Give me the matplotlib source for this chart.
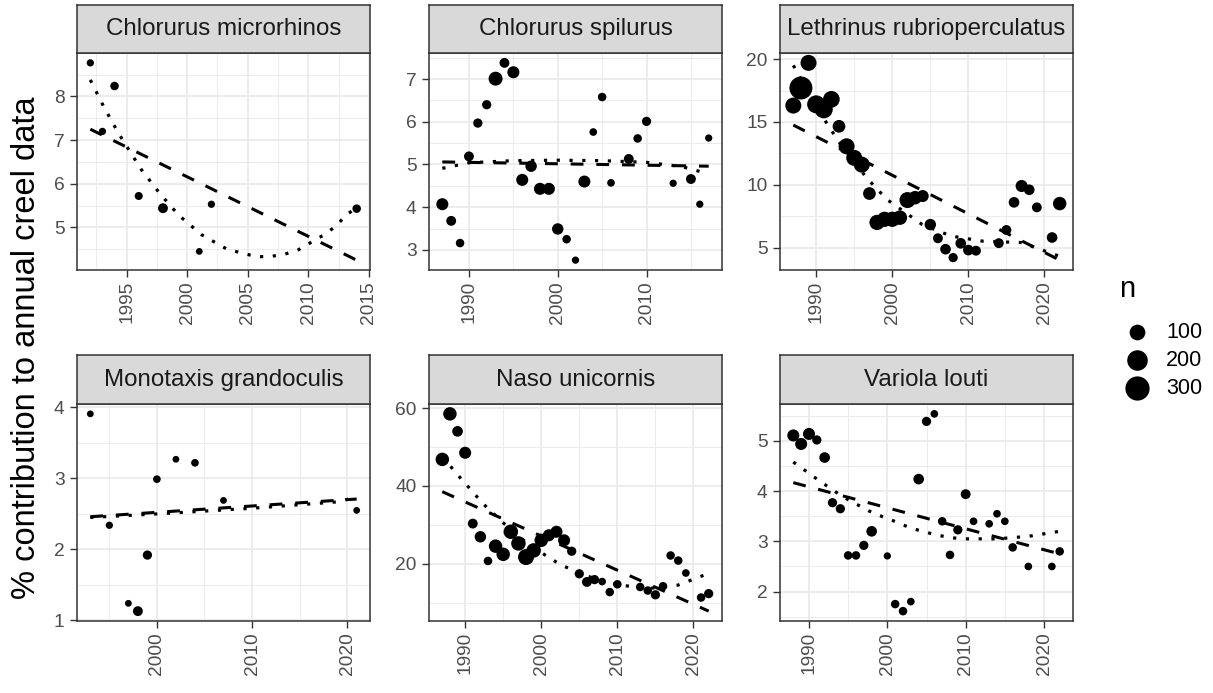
import numpy as np
import matplotlib
matplotlib.use("Agg")
import matplotlib.pyplot as plt
from matplotlib.ticker import MultipleLocator

plt.rcParams['font.family'] = ['Liberation Sans', 'DejaVu Sans']

# ---------------- data ----------------
species = ["Chlorurus microrhinos", "Chlorurus spilurus", "Lethrinus rubrioperculatus",
           "Monotaxis grandoculis", "Naso unicornis", "Variola louti"]

cm_year = [1992, 1993, 1994, 1996, 1998, 2001, 2002, 2014]
cm_pct = [8.77, 7.20, 8.24, 5.72, 5.44, 4.45, 5.53, 5.43]
cm_n = [8, 8, 15, 12, 25, 6, 8, 15]
cm_lin_year = [1992, 2014]
cm_lin_pct = [7.25, 4.25]
cm_sm_year = [1992, 1993.1, 1994.3, 1996.2, 1997.7, 1999.3, 2001.2, 2003.3, 2005.7, 2006.8,
              2008.1, 2009.2, 2011.3, 2012.3, 2013.1, 2014]
cm_sm_pct = [8.38, 7.77, 7.17, 6.33, 5.79, 5.28, 4.83, 4.50, 4.33, 4.33,
             4.39, 4.49, 4.83, 5.03, 5.28, 5.45]

cs_year = [1987, 1988, 1989, 1990, 1991, 1992, 1993, 1994, 1995, 1996, 1997, 1998, 1999,
           2000, 2001, 2002, 2003, 2004, 2005, 2006, 2008, 2009, 2010, 2013, 2015, 2016, 2017]
cs_pct = [4.07, 3.68, 3.16, 5.19, 5.97, 6.40, 7.01, 7.38, 7.16, 4.64, 4.96, 4.43, 4.43,
          3.49, 3.25, 2.76, 4.60, 5.76, 6.58, 4.57, 5.13, 5.61, 6.01, 4.56, 4.66, 4.07, 5.62]
cs_n = [47, 25, 15, 25, 20, 20, 72, 25, 47, 47, 40, 47, 47,
        40, 15, 8, 47, 10, 15, 10, 25, 15, 20, 8, 25, 8, 8]
cs_lin_year = [1987, 2017]
cs_lin_pct = [5.06, 4.96]
cs_sm_year = [1987, 1990, 1995, 2000, 2005, 2010, 2014, 2017]
cs_sm_pct = [4.91, 5.04, 5.09, 5.10, 5.09, 5.05, 4.95, 4.78]

lr_year = [1987, 1988, 1989, 1990, 1991, 1992, 1993, 1994, 1995, 1996, 1997, 1998, 1999,
           2000, 2001, 2002, 2003, 2004, 2005, 2006, 2007, 2008, 2009, 2010, 2011, 2014,
           2015, 2016, 2017, 2018, 2019, 2021, 2022]
lr_pct = [16.3, 17.7, 19.7, 16.4, 16.0, 16.8, 14.65, 13.06, 12.14, 11.6, 9.3, 7.0, 7.25,
          7.25, 7.38, 8.78, 8.97, 9.1, 6.83, 5.74, 4.87, 4.2, 5.34, 4.8, 4.75, 5.35,
          6.4, 8.6, 9.9, 9.6, 8.2, 5.8, 8.5]
lr_n = [105, 264, 105, 143, 143, 117, 55, 105, 105, 105, 55, 92, 92,
        92, 80, 105, 65, 47, 40, 25, 32, 20, 32, 32, 25, 25,
        25, 32, 47, 32, 25, 32, 65]
lr_lin_year = [1987, 2022]
lr_lin_pct = [14.75, 4.0]
lr_sm_year = [1987, 1990, 1993, 1996.7, 1999.3, 2003.9, 2007.7, 2012, 2017, 2022]
lr_sm_pct = [19.5, 16.2, 13.4, 10.5, 8.83, 6.85, 5.92, 5.5, 5.4, 4.3]

mg_year = [1993, 1995, 1997, 1998, 1999, 2000, 2002, 2004, 2007, 2021]
mg_pct = [3.91, 2.34, 1.24, 1.13, 1.92, 2.99, 3.27, 3.22, 2.69, 2.55]
mg_n = [6, 8, 6, 25, 20, 10, 6, 10, 6, 6]
mg_lin_year = [1993, 2021]
mg_lin_pct = [2.46, 2.71]
mg_sm_year = [1993, 2000, 2010, 2019, 2021]
mg_sm_pct = [2.45, 2.50, 2.58, 2.67, 2.74]

nu_year = [1987, 1988, 1989, 1990, 1991, 1992, 1993, 1994, 1995, 1996, 1997, 1998, 1999,
           2000, 2001, 2002, 2003, 2004, 2005, 2006, 2007, 2008, 2009, 2010, 2013, 2014,
           2015, 2016, 2017, 2018, 2019, 2021, 2022]
nu_pct = [46.8, 58.5, 54.0, 48.5, 30.3, 26.9, 20.7, 24.5, 22.4, 28.2, 25.2, 21.7, 23.4,
          26.0, 27.3, 28.2, 26.0, 23.2, 17.4, 15.3, 15.9, 15.4, 12.7, 14.7, 14.0, 13.1,
          12.0, 14.2, 22.1, 20.8, 17.6, 11.3, 12.3]
nu_n = [65, 65, 32, 47, 25, 40, 15, 65, 65, 80, 80, 105, 80,
        65, 47, 47, 47, 20, 20, 25, 20, 10, 15, 15, 15, 15,
        20, 15, 15, 15, 10, 15, 20]
nu_lin_year = [1987, 2022]
nu_lin_pct = [38.5, 7.8]
nu_sm_year = [1987, 1988.3, 1989.6, 1990.9, 1992.2, 1995, 1998, 2001.2, 2002.8, 2006,
              2010, 2014, 2018, 2022]
nu_sm_pct = [47.5, 44.5, 41.5, 38.7, 35.7, 30.5, 25.5, 21.3, 19.5, 16.8,
             14.6, 13.6, 14.5, 17.5]

vl_year = [1988, 1989, 1990, 1991, 1992, 1993, 1994, 1995, 1996, 1997, 1998, 2000, 2001,
           2002, 2003, 2004, 2005, 2006, 2007, 2008, 2009, 2010, 2011, 2013, 2014, 2015,
           2016, 2018, 2021, 2022]
vl_pct = [5.11, 4.94, 5.14, 5.02, 4.67, 3.77, 3.65, 2.72, 2.72, 2.92, 3.20, 2.71, 1.75,
          1.61, 1.80, 4.24, 5.39, 5.54, 3.40, 2.73, 3.23, 3.94, 3.40, 3.35, 3.55, 3.40,
          2.88, 2.50, 2.50, 2.80]
vl_n = [47, 47, 47, 20, 32, 20, 20, 15, 15, 20, 32, 8, 15,
        15, 10, 32, 20, 10, 15, 15, 20, 25, 10, 10, 10, 10,
        15, 10, 10, 15]
vl_lin_year = [1988, 2022]
vl_lin_pct = [4.17, 2.75]
vl_sm_year = [1988, 1989.7, 1991.2, 1992.8, 1994.3, 1997.6, 1999.4, 2001.1, 2002.9,
              2004.7, 2006.5, 2008.3, 2010.1, 2014, 2018, 2022]
vl_sm_pct = [4.58, 4.39, 4.22, 4.05, 3.89, 3.61, 3.49, 3.39, 3.27,
             3.19, 3.12, 3.07, 3.05, 3.05, 3.10, 3.20]

legend_n = [100, 200, 300]

panels = [
    (cm_year, cm_pct, cm_n, cm_lin_year, cm_lin_pct, cm_sm_year, cm_sm_pct),
    (cs_year, cs_pct, cs_n, cs_lin_year, cs_lin_pct, cs_sm_year, cs_sm_pct),
    (lr_year, lr_pct, lr_n, lr_lin_year, lr_lin_pct, lr_sm_year, lr_sm_pct),
    (mg_year, mg_pct, mg_n, mg_lin_year, mg_lin_pct, mg_sm_year, mg_sm_pct),
    (nu_year, nu_pct, nu_n, nu_lin_year, nu_lin_pct, nu_sm_year, nu_sm_pct),
    (vl_year, vl_pct, vl_n, vl_lin_year, vl_lin_pct, vl_sm_year, vl_sm_pct),
]
x_steps = [5, 10, 10, 10, 10, 10]
y_steps = [1, 1, 5, 1, 20, 1]

# ---------------- style / layout ----------------
W, H, DPI = 1213, 693, 100
N_MIN, N_MAX = 1, 330


def msize(n):
    n = np.asarray(n, dtype=float)
    d_px = 4.2 * (1 + 5 * np.sqrt(np.clip((n - N_MIN) / (N_MAX - N_MIN), 0, 1)))
    return (d_px * 72 / DPI) ** 2


fig = plt.figure(figsize=(W / DPI, H / DPI), dpi=DPI)
fig.patch.set_facecolor("white")

col_left = [77, 429, 780]
pw, ph = 293, 217
row_top = [53, 404]
strip_h = 48.5


def fx(px):
    return px / W


def fy(py):
    return 1 - py / H


border = "#333333"
grid_c = "#EBEBEB"

for i, (yr, pct, n, ly, lp, sy, sp) in enumerate(panels):
    r, c = divmod(i, 3)
    left, top = col_left[c], row_top[r]
    ax = fig.add_axes([fx(left), fy(top + ph), pw / W, ph / H])
    ax.scatter(yr, pct, s=msize(n), c="black", linewidths=0, zorder=3)
    ax.plot(ly, lp, color="black", lw=2.2, linestyle=(0, (4.2, 4.2)),
            solid_capstyle="butt", dash_capstyle="butt", zorder=4)
    ax.plot(sy, sp, color="black", lw=2.3, linestyle=(0, (1, 3)),
            dash_capstyle="butt", zorder=4)
    allx = list(yr) + list(ly) + list(sy)
    ally = list(pct) + list(lp) + list(sp)
    x0, x1 = min(allx), max(allx)
    y0, y1 = min(ally), max(ally)
    ax.set_xlim(x0 - 0.05 * (x1 - x0), x1 + 0.05 * (x1 - x0))
    ax.set_ylim(y0 - 0.05 * (y1 - y0), y1 + 0.05 * (y1 - y0))
    ax.xaxis.set_major_locator(MultipleLocator(x_steps[i]))
    ax.xaxis.set_minor_locator(MultipleLocator(x_steps[i] / 2))
    ax.yaxis.set_major_locator(MultipleLocator(y_steps[i]))
    ax.yaxis.set_minor_locator(MultipleLocator(y_steps[i] / 2))
    ax.grid(True, which="major", color=grid_c, lw=1.3, zorder=0)
    ax.grid(True, which="minor", color=grid_c, lw=0.65, zorder=0)
    ax.set_axisbelow(True)
    ax.tick_params(which="major", length=5, width=1.0, color=border,
                   labelsize=13.8, labelcolor="#4D4D4D", pad=3)
    ax.tick_params(axis="y", which="major", pad=4)
    ax.tick_params(which="minor", length=0)
    for lab in ax.get_xticklabels():
        lab.set_rotation(90)
        lab.set_va("top")
        lab.set_ha("center")
    for s in ax.spines.values():
        s.set_color(border)
        s.set_linewidth(1.1)
    # strip
    sax = fig.add_axes([fx(left), fy(top), pw / W, strip_h / H])
    sax.set_facecolor("#D9D9D9")
    sax.set_xticks([])
    sax.set_yticks([])
    for s in sax.spines.values():
        s.set_color(border)
        s.set_linewidth(1.1)
    sax.text(0.5, 0.5, species[i], ha="center", va="center", fontsize=17.4,
             color="#1A1A1A", transform=sax.transAxes)

# y-axis title
fig.text(fx(27), fy(348), "% contribution to annual creel data", rotation=90,
         ha="center", va="center", fontsize=23.5, color="black")

# legend
lax = fig.add_axes([0, 0, 1, 1])
lax.set_xlim(0, W)
lax.set_ylim(H, 0)
lax.axis("off")
lax.text(1119, 289, "n", ha="left", va="center", fontsize=21, color="black")
for k, (nv, yy) in enumerate(zip(legend_n, [332, 360, 388])):
    lax.scatter([1137], [yy], s=msize([nv]), c="black", linewidths=0)
    lax.text(1166, yy, str(nv), ha="left", va="center", fontsize=15.5, color="black")

fig.savefig("out.png", dpi=DPI)
